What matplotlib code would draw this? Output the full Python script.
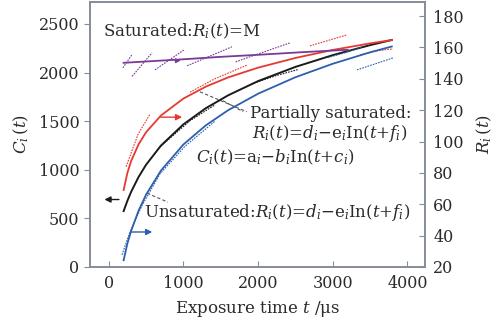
import matplotlib
matplotlib.use("Agg")
import matplotlib.pyplot as plt
import numpy as np

plt.rcParams['font.family'] = 'DejaVu Serif'
plt.rcParams['mathtext.fontset'] = 'dejavuserif'

# fitted curves
t_fit = [200, 250, 300, 400, 500, 700, 1000, 1300, 1600, 2000, 2500, 3000, 3500, 3790]
C_black = [575, 680, 772, 926, 1051, 1249, 1467, 1633, 1766, 1912, 2058, 2179, 2282, 2335]
R_red = [69.1, 79.9, 87.5, 98.2, 105.9, 116.6, 127.4, 135.0, 140.9, 147.1, 153.3, 158.4, 162.6, 164.7]
R_blue = [24.3, 34.9, 43.0, 55.9, 66.1, 81.5, 98.1, 110.3, 120.0, 130.5, 141.0, 149.6, 156.9, 160.6]

t_purple = [200, 950, 1500, 2000, 2600, 3200]
R_purple = [150.2, 152.3, 154, 155.3, 157, 158.5]

# measured data (short dashed runs), nan separates runs
t_purple_meas = [190, 310, np.nan, 313, 580, np.nan, 620, 1010, np.nan, 1050, 1650, np.nan, 1700, 2430]
R_purple_meas = [147.0, 155.3, np.nan, 141.5, 156.6, np.nan, 145.7, 158.5, np.nan, 148.3, 160.4, np.nan, 150.8, 163]

t_red_meas = [233, 392, 553, np.nan, 1089, 1424, 1851, np.nan, 2695, 2963, 3190, np.nan, 3365, 3605, 3806]
R_red_meas = [84.0, 104.5, 117.5, np.nan, 131.5, 140.1, 148.7, np.nan, 161.0, 164.8, 168.0, np.nan, 155.3, 157.9, 159.1]

t_blue_meas = [178, 285, 446, 687, 1022, 1423, np.nan, 2935, 3163, 3390, np.nan, 3324, 3565, 3806]
R_blue_meas = [27.7, 42.5, 59.2, 79.4, 97.0, 113.0, np.nan, 153.5, 156.6, 160.4, np.nan, 145.7, 149.5, 153.3]

t_black_meas = [686, 1089, 1424, np.nan, 1906, 2240, 2530]
C_black_meas = [1235, 1505, 1668, np.nan, 1880, 1968, 2030]

fig = plt.figure(figsize=(5.04, 3.26), dpi=100)
ax = fig.add_axes([0.1786, 0.181, 0.6647, 0.813])
ax2 = ax.twinx()

red = '#e53a30'
blue = '#2d5fae'
purple = '#7b3a96'
blk = '#1b1b1b'
spine_c = '#858c99'
txt = '#2b2b2b'

ax.plot(t_fit, C_black, color=blk, lw=1.4, zorder=4)
ax.plot(t_black_meas, C_black_meas, color=blk, lw=0.8, ls=(0, (1.5, 1)), zorder=3)

ax2.plot(t_fit, R_red, color=red, lw=1.3, zorder=4)
ax2.plot(t_red_meas, R_red_meas, color=red, lw=0.8, ls=(0, (1.5, 1)))
ax2.plot(t_fit, R_blue, color=blue, lw=1.3, zorder=4)
ax2.plot(t_blue_meas, R_blue_meas, color=blue, lw=0.8, ls=(0, (1.5, 1)))
ax2.plot(t_purple, R_purple, color=purple, lw=1.3, zorder=4)
ax2.plot(t_purple_meas, R_purple_meas, color=purple, lw=0.8, ls=(0, (1.5, 1)))

ax.set_xlim(-250, 4235)
ax.set_ylim(0, 2726)
ax2.set_ylim(20, 189)

ax.set_xticks([0, 1000, 2000, 3000, 4000])
ax.set_yticks([0, 500, 1000, 1500, 2000, 2500])
ax2.set_yticks(range(20, 181, 20))

for a in (ax, ax2):
    for s in a.spines.values():
        s.set_color(spine_c)
        s.set_linewidth(1.2)
ax.tick_params(axis='x', direction='in', length=4, color=spine_c, labelsize=11.5, labelcolor=txt, pad=6)
ax.tick_params(axis='y', direction='out', length=4, color=spine_c, labelsize=11.5, labelcolor=txt)
ax2.tick_params(axis='y', direction='in', length=4, color=spine_c, labelsize=11.5, labelcolor=txt, pad=6)

ax.set_xlabel(r'Exposure time $t$ /$\mathrm{\mu}$s', fontsize=12, color=txt, labelpad=5)
ax.set_ylabel(r'$C_i\,(t)$', fontsize=12, color=txt, labelpad=6)
ax2.set_ylabel(r'$R_i\,(t)$', fontsize=12, color=txt, labelpad=8)

# arrows pointing to the axis each curve belongs to
ax.annotate('', xy=(1020, 1541), xytext=(660, 1541),
            arrowprops=dict(arrowstyle='-|>', color=red, lw=1.0, mutation_scale=9))
ax.annotate('', xy=(-94, 694), xytext=(174, 694),
            arrowprops=dict(arrowstyle='-|>', color=blk, lw=1.0, mutation_scale=9))
ax.annotate('', xy=(620, 360), xytext=(262, 360),
            arrowprops=dict(arrowstyle='-|>', color=blue, lw=1.0, mutation_scale=9))
ax.annotate('', xy=(1000, 2125), xytext=(850, 2120),
            arrowprops=dict(arrowstyle='-|>', color=purple, lw=0.8, mutation_scale=7))

# dashed leaders
ax.plot([1222, 1848], [1802, 1597], color='#555555', lw=0.8, ls=(0, (3, 2)))
ax.plot([1530, 1800], [1710, 1597], color='#555555', lw=0.8, ls=(0, (3, 2)))
ax.plot([513, 793], [759, 667], color='#555555', lw=0.8, ls=(0, (3, 2)))

fs = 12
ax.text(-76, 2427, r'Saturated:$R_i(t)$=M', fontsize=fs, color=txt, va='center')
ax.text(1892, 1583, 'Partially saturated:', fontsize=fs, color=txt, va='center')
ax.text(1918, 1377, r'$R_i(t)$=$d_i$$-$e$_i$In($t$+$f_i$)', fontsize=fs, color=txt, va='center')
ax.text(1169, 1130, r'$C_i(t)$=a$_i$$-$$b_i$In($t$+$c_i$)', fontsize=fs, color=txt, va='center')
ax.text(473, 563, r'Unsaturated:$R_i(t)$=$d_i$$-$e$_i$In($t$+$f_i$)', fontsize=fs, color=txt, va='center')

fig.savefig('out.png', dpi=100)
